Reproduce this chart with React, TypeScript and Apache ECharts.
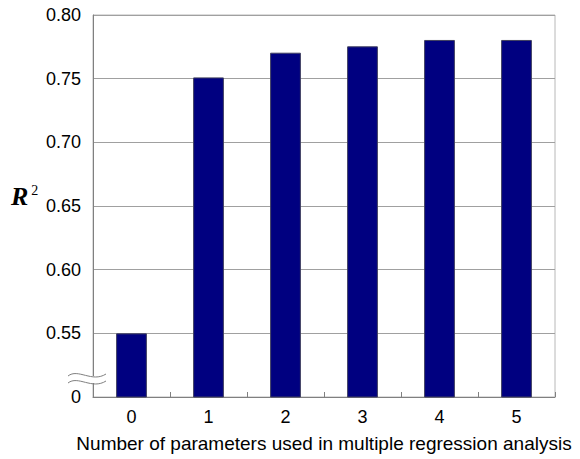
import React, { useEffect, useRef } from "react";
import * as echarts from "echarts";

const categories = ["0", "1", "2", "3", "4", "5"];
const r2Values = [0.55, 0.751, 0.7704, 0.7754, 0.7804, 0.7804];
const yTicks = { min: 0.5, max: 0.8, interval: 0.05 };
const xAxisTitle = "Number of parameters used in multiple regression analysis";

export default function App() {
  const ref = useRef<HTMLDivElement>(null);
  useEffect(() => {
    if (!ref.current) return;
    document.body.style.margin = "0";
    const chart = echarts.init(ref.current, null, { renderer: "svg" });
    const font = "'Liberation Sans', Arial, sans-serif";
    chart.setOption({
      animation: false,
      backgroundColor: "#ffffff",
      grid: {
        left: 93,
        right: 25,
        top: 15,
        bottom: 62,
        show: true,
        borderColor: "#b8b8b8",
        borderWidth: 1,
        backgroundColor: "transparent",
      },
      xAxis: {
        type: "category",
        data: categories,
        name: xAxisTitle,
        nameLocation: "middle",
        nameGap: 37,
        nameTextStyle: { fontFamily: font, fontSize: 19, color: "#000" },
        axisLine: { show: true, lineStyle: { color: "#808080", width: 1 } },
        axisTick: { show: true, inside: true, length: 5, lineStyle: { color: "#808080" } },
        axisLabel: { fontFamily: font, fontSize: 18, color: "#000", margin: 11 },
        splitLine: { show: false },
      },
      yAxis: {
        type: "value",
        min: yTicks.min,
        max: yTicks.max,
        interval: yTicks.interval,
        axisLine: { show: true, lineStyle: { color: "#808080", width: 1 } },
        axisTick: { show: false },
        axisLabel: {
          fontFamily: font,
          fontSize: 18,
          color: "#000",
          margin: 12,
          formatter: (v: number) => (v <= yTicks.min + 1e-9 ? "0" : v.toFixed(2)),
        },
        splitLine: { show: true, lineStyle: { color: "#a0a0a0", width: 1 } },
      },
      series: [
        {
          type: "bar",
          data: r2Values,
          barWidth: "40%",
          itemStyle: { color: "#000080", borderColor: "#404060", borderWidth: 1 },
        },
      ],
      graphic: [
        {
          type: "rect",
          z: 100,
          shape: { x: 88, y: 376, width: 10, height: 7 },
          style: { fill: "#ffffff" },
        },
        {
          type: "bezierCurve",
          z: 101,
          shape: { x1: 68, y1: 376, cpx1: 78, cpy1: 368, cpx2: 92, cpy2: 383, x2: 106, y2: 374 },
          style: { stroke: "#808080", lineWidth: 1, fill: "none" },
        },
        {
          type: "bezierCurve",
          z: 101,
          shape: { x1: 68, y1: 383, cpx1: 78, cpy1: 375, cpx2: 92, cpy2: 390, x2: 106, y2: 381 },
          style: { stroke: "#808080", lineWidth: 1, fill: "none" },
        },
        {
          type: "text",
          z: 101,
          left: 11,
          top: 183,
          style: {
            text: "{r|R}{s|2}",
            rich: {
              r: {
                fontFamily: "'Liberation Serif', 'Times New Roman', serif",
                fontSize: 26,
                fontStyle: "italic",
                fontWeight: "bold",
                fill: "#000",
              },
              s: {
                fontFamily: "'Liberation Serif', 'Times New Roman', serif",
                fontSize: 14,
                fill: "#000",
                verticalAlign: "top",
                padding: [0, 0, 12, 3],
              },
            },
          },
        },
      ],
    });
    return () => chart.dispose();
  }, []);
  return <div ref={ref} style={{ width: 580, height: 459 }} />;
}
